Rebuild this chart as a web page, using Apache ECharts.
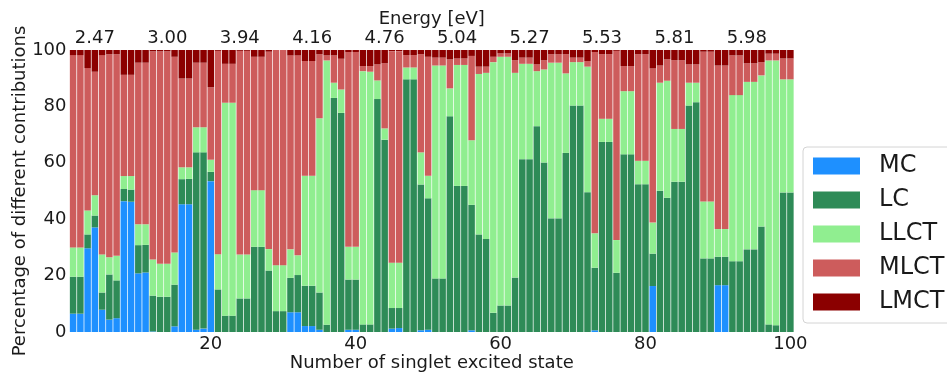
<!DOCTYPE html>
<html>
<head>
<meta charset="utf-8">
<title>Excited state character</title>
<script src="https://cdn.jsdelivr.net/npm/echarts@6/dist/echarts.min.js"></script>
<style>
  html, body { margin: 0; padding: 0; background: #fff; }
  #chart { width: 947px; height: 372px; }
</style>
</head>
<body>
<div id="chart"></div>
<script>
// Singlet excited states 1..100
const states = [];
for (let i = 1; i <= 100; i++) states.push(String(i));

// Contribution (%) of each transition type per state
const mc = [6.5,6.5,29.7,37.1,7.9,4.4,4.9,46.4,46.2,20.8,
  21.1,0.2,0,0,2.0,45.3,45.3,0.8,1.2,53.5,
  0,0,0,0,0,0,0,0,0,0,
  7.0,7.0,2.1,2.1,0.8,0,0,0,0.8,0.8,
  0,0,0,0,1.2,1.4,0,0,0.6,0.8,
  0,0,0,0,0,0.6,0,0,0,0,
  0,0,0,0,0,0,0,0,0,0,
  0,0,0.6,0,0,0,0,0,0,0,
  16.3,0,0,0,0,0,0,0,0,16.6,
  16.6,0,0,0,0,0,0,0,0,0];

const lc = [13.1,13.1,4.9,4.2,6.1,16.0,13.4,4.3,4.3,10.0,
  9.8,12.7,12.5,12.5,14.8,8.9,9.0,62.9,62.5,3.3,
  15.1,5.8,5.8,11.9,11.9,30.2,30.2,21.8,7.4,7.4,
  12.2,13.2,14.3,14.3,13.2,2.6,83.0,77.7,17.8,17.8,
  2.7,2.7,82.6,68.2,7.3,7.1,89.6,89.6,51.7,46.6,
  19.0,19.0,76.5,51.8,51.8,44.5,34.6,33.0,6.8,9.4,
  9.4,19.3,61.3,61.3,73.0,60.1,40.3,40.3,63.5,80.3,
  80.3,49.6,22.2,67.4,67.4,21.0,63.0,63.0,52.4,52.4,
  11.5,50.1,47.6,53.3,53.3,80.3,81.5,26.1,26.1,10.1,
  10.1,25.1,25.1,29.3,29.3,37.4,2.7,2.4,49.5,49.5];

const llct = [10.4,10.4,8.5,7.2,13.5,6.1,8.7,4.6,4.8,7.4,
  7.3,12.8,11.7,11.7,11.4,4.2,4.1,8.9,8.9,4.3,
  12.5,75.5,75.5,15.6,15.6,20.1,20.1,7.6,16.3,16.3,
  10.1,7.0,39.0,39.0,61.8,93.7,5.4,8.3,11.6,11.6,
  89.8,89.6,6.6,4.0,16.1,16.1,4.2,4.2,11.4,8.0,
  75.5,75.5,9.9,42.9,42.9,22.9,56.9,58.9,88.9,88.2,
  88.2,72.6,33.8,33.8,19.5,33.0,55.2,55.2,28.2,15.4,
  15.4,44.5,12.2,8.2,8.2,11.6,22.4,22.4,8.3,8.3,
  11.0,38.3,41.5,18.7,18.7,8.1,6.9,20.2,20.2,9.8,
  9.8,58.9,58.9,59.4,59.4,53.6,93.6,93.9,40.1,40.1];

const mlct = [68.2,68.2,50.5,43.8,70.7,72.0,71.5,35.9,35.9,57.3,
  57.3,73.8,75.3,75.3,69.4,31.5,31.5,22.9,22.9,25.7,
  72.1,13.8,13.8,72.2,72.2,47.3,47.3,70.0,76.3,76.3,
  68.8,70.9,40.7,40.7,22.7,1.8,9.7,10.9,69.1,69.1,
  1.8,2.0,5.7,23.1,75.0,75.0,4.4,4.4,34.8,42.2,
  2.8,2.8,10.3,2.3,2.3,29.9,2.6,2.2,1.9,1.2,
  1.2,4.5,2.2,2.2,2.4,3.3,3.0,3.0,6.8,1.6,
  1.6,2.0,64.3,22.9,22.9,67.1,8.9,8.9,37.8,37.8,
  54.7,6.1,7.6,24.4,24.4,6.5,6.5,53.1,53.1,58.0,
  58.0,14.1,14.1,6.6,6.6,4.7,2.4,2.4,7.4,7.4];

const lmct = [1.8,1.8,6.4,7.7,1.8,1.5,1.5,8.8,8.8,4.5,
  4.5,0.5,0.5,0.5,2.4,10.1,10.1,4.5,4.5,13.2,
  0.3,4.9,4.9,0.3,0.3,2.4,2.4,0.6,0,0,
  1.9,1.9,3.9,3.9,1.5,1.9,1.9,3.1,0.7,0.7,
  5.7,5.7,5.1,4.7,0.4,0.4,1.8,1.8,1.5,2.4,
  2.7,2.7,3.3,3.0,3.0,2.1,5.9,5.9,2.4,1.2,
  1.2,3.6,2.7,2.7,5.1,3.6,1.5,1.5,1.5,2.7,
  2.7,3.9,0.7,1.5,1.5,0.3,5.7,5.7,1.5,1.5,
  6.5,5.5,3.3,3.6,3.6,5.1,5.1,0.6,0.6,5.5,
  5.5,1.9,1.9,4.7,4.7,4.3,1.3,1.3,3.0,3.0];

// Secondary (top) axis: excitation energies of selected states
const energyStates = [4, 14, 24, 34, 44, 54, 64, 74, 84, 94];
const energyLabels = ['2.47','3.00','3.94','4.16','4.76','5.04','5.27','5.53','5.81','5.98'];

// Bottom axis tick labels
const stateTicks = [20, 40, 60, 80, 100];

const FONT = 'DejaVu Sans';
const TXT = '#1a1a1a';

const seriesDefs = [
  { name: 'MC',   data: mc,   color: '#1e90ff' },
  { name: 'LC',   data: lc,   color: '#2e8b57' },
  { name: 'LLCT', data: llct, color: '#90ee90' },
  { name: 'MLCT', data: mlct, color: '#cd5c5c' },
  { name: 'LMCT', data: lmct, color: '#8b0000' }
];

const chart = echarts.init(document.getElementById('chart'), null, { renderer: 'canvas' });

chart.setOption({
  animation: false,
  backgroundColor: '#fff',
  textStyle: { fontFamily: FONT },
  grid: { left: 69.5, right: 153, top: 50, bottom: 40, containLabel: false, outerBoundsMode: 'none' },
  legend: {
    orient: 'vertical',
    left: 803,
    top: 147,
    icon: 'rect',
    itemWidth: 47,
    itemHeight: 17,
    itemGap: 10,
    padding: [7, 10, 9, 10],
    borderColor: '#d4d4d4',
    borderWidth: 1,
    borderRadius: 4,
    backgroundColor: '#fff',
    textStyle: { fontSize: 24, color: TXT, fontFamily: FONT, lineHeight: 24, padding: [0, 0, 0, 14] },
    data: seriesDefs.map(s => s.name)
  },
  xAxis: [
    {
      type: 'category',
      data: states,
      position: 'bottom',
      axisLine: { show: false },
      axisTick: { show: false },
      axisLabel: {
        interval: (idx) => stateTicks.includes(idx + 1),
        fontSize: 18, color: TXT, fontFamily: FONT, margin: 3
      },
      name: 'Number of singlet excited state',
      nameLocation: 'middle',
      nameMoveOverlap: false,
      nameGap: 22,
      nameTextStyle: { fontSize: 18, color: TXT, fontFamily: FONT }
    },
    {
      type: 'category',
      data: states,
      position: 'top',
      axisLine: { show: false },
      axisTick: { show: false },
      axisLabel: {
        interval: (idx) => energyStates.includes(idx + 1),
        formatter: (v) => energyLabels[energyStates.indexOf(Number(v))],
        fontSize: 18, color: TXT, fontFamily: FONT, margin: 3
      },
      name: 'Energy [eV]',
      nameLocation: 'middle',
      nameMoveOverlap: false,
      nameGap: 22,
      nameTextStyle: { fontSize: 18, color: TXT, fontFamily: FONT }
    }
  ],
  yAxis: {
    type: 'value',
    min: 0, max: 100, interval: 20,
    axisLine: { show: false },
    axisTick: { show: false },
    splitLine: { show: false },
    axisLabel: { fontSize: 18, color: TXT, fontFamily: FONT, margin: 3 },
    name: 'Percentage of different contributions',
    nameLocation: 'middle',
    nameMoveOverlap: false,
    nameGap: 40,
    nameTextStyle: { fontSize: 18, color: TXT, fontFamily: FONT }
  },
  series: seriesDefs.map(s => ({
    name: s.name,
    type: 'bar',
    stack: 'total',
    xAxisIndex: 0,
    data: s.data,
    barCategoryGap: '10%',
    itemStyle: { color: s.color },
    emphasis: { disabled: true }
  }))
});
</script>
</body>
</html>
